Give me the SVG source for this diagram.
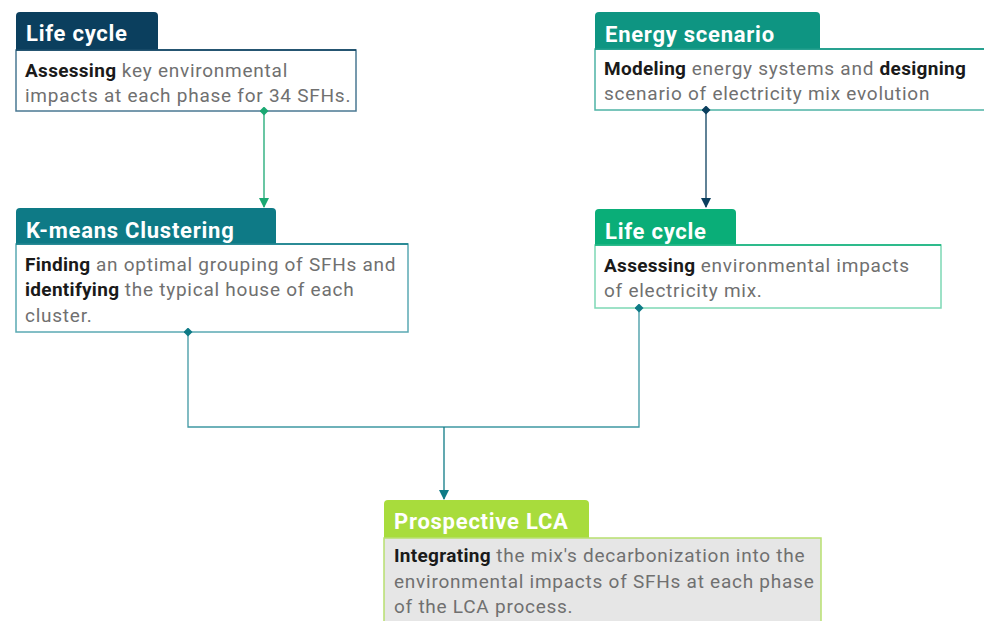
<svg xmlns="http://www.w3.org/2000/svg" width="984" height="621" viewBox="0 0 984 621">
<style>
.h{font-family:Roboto,"Liberation Sans",sans-serif;font-weight:bold;font-size:22px;letter-spacing:0.75px;fill:#fff}
.t{font-family:Roboto,"Liberation Sans",sans-serif;font-size:19px;letter-spacing:0.75px;fill:#707070}
.t tspan.b{font-weight:bold;fill:#1a1a1a;letter-spacing:0.3px}
.body{fill:#fff;stroke-width:1.5}
</style>
<defs>
<marker id="arrG" viewBox="0 0 10 10" refX="9" refY="5" markerWidth="10" markerHeight="10" orient="auto" markerUnits="userSpaceOnUse"><path d="M0,0 L10,5 L0,10 z" fill="#1aa872"/></marker>
<marker id="arrN" viewBox="0 0 10 10" refX="9" refY="5" markerWidth="10" markerHeight="10" orient="auto" markerUnits="userSpaceOnUse"><path d="M0,0 L10,5 L0,10 z" fill="#0b3f5e"/></marker>
<marker id="arrT" viewBox="0 0 10 10" refX="9" refY="5" markerWidth="10" markerHeight="10" orient="auto" markerUnits="userSpaceOnUse"><path d="M0,0 L10,5 L0,10 z" fill="#0e7a86"/></marker>
<marker id="dG" viewBox="0 0 10 10" refX="5" refY="5" markerWidth="9" markerHeight="9" markerUnits="userSpaceOnUse"><path d="M5,0 L10,5 L5,10 L0,5 z" fill="#1aa872"/></marker>
<marker id="dN" viewBox="0 0 10 10" refX="5" refY="5" markerWidth="9" markerHeight="9" markerUnits="userSpaceOnUse"><path d="M5,0 L10,5 L5,10 L0,5 z" fill="#0b3f5e"/></marker>
<marker id="dT" viewBox="0 0 10 10" refX="5" refY="5" markerWidth="9" markerHeight="9" markerUnits="userSpaceOnUse"><path d="M5,0 L10,5 L5,10 L0,5 z" fill="#0e7a86"/></marker>
</defs>
<rect width="984" height="621" fill="#fff"/>

<g id="node-lifecycle-1">
<path d="M16,50 L16,16 Q16,12 20,12 L154,12 Q158,12 158,16 L158,50 Z" fill="#0b3f5e"/>
<rect class="body" x="16" y="50" width="340" height="61" stroke="#4a7892"/>
<line x1="16" y1="50" x2="356" y2="50" stroke="#0b3f5e" stroke-width="1.5"/>
<text class="h" x="26" y="41">Life cycle</text>
<text class="t" x="25" y="77"><tspan class="b">Assessing</tspan> key environmental</text>
<text class="t" x="25" y="102">impacts at each phase for 34 SFHs.</text>
</g>

<g id="node-kmeans">
<path d="M16,244 L16,212 Q16,208 20,208 L272,208 Q276,208 276,212 L276,244 Z" fill="#0e7a86"/>
<rect class="body" x="16" y="244" width="392" height="88" stroke="#5aa9b3"/>
<line x1="16" y1="244" x2="408" y2="244" stroke="#0e7a86" stroke-width="1.5"/>
<text class="h" x="26" y="238">K-means Clustering</text>
<text class="t" x="25" y="271"><tspan class="b">Finding</tspan> an optimal grouping of SFHs and</text>
<text class="t" x="25" y="296"><tspan class="b">identifying</tspan> the typical house of each</text>
<text class="t" x="25" y="322">cluster.</text>
</g>

<g id="node-energy">
<path d="M595,49 L595,16 Q595,12 599,12 L816,12 Q820,12 820,16 L820,49 Z" fill="#0e9582"/>
<rect class="body" x="595" y="49" width="400" height="61" stroke="#4eb3a5"/>
<line x1="595" y1="49" x2="984" y2="49" stroke="#0e9582" stroke-width="1.5"/>
<text class="h" x="605" y="42">Energy scenario</text>
<text class="t" x="604" y="75"><tspan class="b">Modeling</tspan> energy systems and <tspan class="b">designing</tspan></text>
<text class="t" x="604" y="100">scenario of electricity mix evolution</text>
</g>

<g id="node-lifecycle-2">
<path d="M595,245 L595,213 Q595,209 599,209 L732,209 Q736,209 736,213 L736,245 Z" fill="#0aae78"/>
<rect class="body" x="595" y="245" width="346" height="63" stroke="#7dd8b5"/>
<line x1="595" y1="245" x2="941" y2="245" stroke="#0aae78" stroke-width="1.5"/>
<text class="h" x="605" y="239">Life cycle</text>
<text class="t" x="604" y="272"><tspan class="b">Assessing</tspan> environmental impacts</text>
<text class="t" x="604" y="297">of electricity mix.</text>
</g>

<g id="node-prospective">
<path d="M384,538 L384,504 Q384,500 388,500 L585,500 Q589,500 589,504 L589,538 Z" fill="#a8dc3c"/>
<rect x="384" y="538" width="437" height="90" fill="#e6e6e6" stroke="#b8e070" stroke-width="1.5"/>
<text class="h" x="394" y="529">Prospective LCA</text>
<text class="t" x="394" y="562"><tspan class="b">Integrating</tspan> the mix's decarbonization into the</text>
<text class="t" x="394" y="588">environmental impacts of SFHs at each phase</text>
<text class="t" x="394" y="613">of the LCA process.</text>
</g>

<g id="connectors" fill="none" stroke-width="1.3">
<path d="M264,111 L264,207" stroke="#1aa872" marker-start="url(#dG)" marker-end="url(#arrG)"/>
<path d="M706,110 L706,207" stroke="#0b3f5e" marker-start="url(#dN)" marker-end="url(#arrN)"/>
<path d="M188,332 L188,427 L639,427 L639,308" stroke="#3f98a3" marker-start="url(#dT)" marker-end="url(#dT)"/>
<path d="M444,427 L444,499" stroke="#0e7a86" marker-end="url(#arrT)"/>
</g>
</svg>
